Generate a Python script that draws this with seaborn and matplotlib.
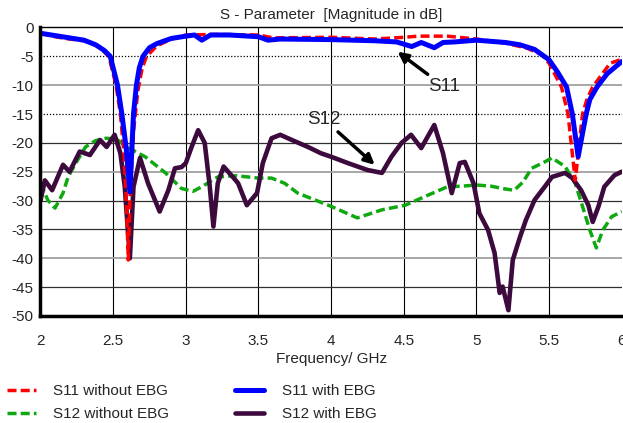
import matplotlib
matplotlib.use("Agg")
import matplotlib.pyplot as plt
import seaborn as sns

# S11 without EBG (red dashed)
s11_no_f = [2.0, 2.1, 2.2, 2.3, 2.4, 2.47, 2.52, 2.55, 2.575, 2.595, 2.604, 2.615, 2.64, 2.67,
            2.7, 2.73, 2.8, 2.9, 3.0, 3.2, 3.5, 3.6, 4.0, 4.3, 4.5, 4.6, 4.8, 5.0, 5.2, 5.35,
            5.45, 5.5, 5.585, 5.63, 5.68, 5.73, 5.76, 5.8, 5.92, 6.0]
s11_no_db = [-1.0, -1.6, -2.0, -2.3, -3.3, -5.0, -10.0, -15.0, -22.0, -33.0, -40.3, -30.0, -18.0, -11.0,
             -7.0, -5.0, -3.2, -2.0, -1.3, -1.2, -1.3, -1.8, -1.7, -2.0, -1.7, -1.5, -1.5, -2.0, -2.7, -3.6,
             -4.7, -6.2, -10.3, -15.0, -26.5, -15.0, -12.5, -10.3, -6.2, -5.5]

# S11 with EBG (blue solid)
s11_ebg_f = [2.0, 2.1, 2.2, 2.3, 2.38, 2.44, 2.48, 2.53, 2.56, 2.59, 2.615, 2.64, 2.66, 2.68,
             2.705, 2.75, 2.8, 2.9, 3.0, 3.06, 3.11, 3.17, 3.3, 3.5, 3.565, 3.65, 4.0, 4.3,
             4.45, 4.555, 4.62, 4.71, 4.77, 4.85, 5.0, 5.2, 5.3, 5.4, 5.5, 5.56, 5.62, 5.66,
             5.70, 5.755, 5.78, 5.83, 5.9, 6.0]
s11_ebg_db = [-1.0, -1.4, -1.8, -2.2, -3.0, -4.0, -5.0, -10.0, -15.0, -21.0, -28.5, -15.0, -10.0, -7.0,
              -5.0, -3.5, -2.8, -1.9, -1.5, -1.3, -2.2, -1.3, -1.3, -1.6, -2.2, -2.0, -2.1, -2.3,
              -2.5, -3.3, -2.6, -3.5, -2.6, -2.5, -2.2, -2.6, -3.0, -3.8, -5.6, -7.8, -10.3, -15.0,
              -22.4, -15.0, -12.5, -10.3, -8.0, -5.9]

# S12 without EBG (green dashed)
s12_no_f = [2.0, 2.05, 2.1, 2.155, 2.19, 2.25, 2.31, 2.38, 2.45, 2.52, 2.6, 2.72, 2.86, 2.97,
            3.05, 3.11, 3.22, 3.35, 3.5, 3.59, 3.68, 3.77, 3.89, 4.0, 4.18, 4.35, 4.51, 4.645,
            4.8, 4.9, 5.0, 5.1, 5.2, 5.26, 5.32, 5.38, 5.47, 5.52, 5.61, 5.68, 5.73, 5.78,
            5.825, 5.87, 5.93, 6.0]
s12_no_db = [-27.0, -29.9, -31.3, -28.7, -25.9, -23.2, -20.7, -19.6, -19.2, -19.3, -20.8, -22.4, -25.2, -27.9,
             -28.4, -27.6, -25.9, -25.7, -26.1, -26.1, -27.0, -28.7, -29.9, -31.0, -33.0, -31.6, -30.8, -29.3,
             -27.6, -27.5, -27.3, -27.5, -28.0, -28.2, -26.8, -24.4, -23.3, -22.6, -24.1, -27.0, -31.0, -35.1,
             -38.2, -35.1, -32.8, -31.9]

# S12 with EBG (dark purple solid)
s12_ebg_f = [2.0, 2.03, 2.08, 2.155, 2.2, 2.27, 2.34, 2.41, 2.455, 2.51, 2.55, 2.58, 2.615, 2.64,
             2.685, 2.74, 2.82, 2.88, 2.925, 2.97, 3.0, 3.04, 3.085, 3.13, 3.165, 3.19, 3.22, 3.26,
             3.33, 3.36, 3.42, 3.49, 3.53, 3.59, 3.65, 3.73, 3.84, 3.93, 4.0, 4.115, 4.25, 4.35,
             4.415, 4.485, 4.55, 4.62, 4.71, 4.77, 4.83, 4.885, 4.92, 4.98, 5.02, 5.08, 5.125, 5.16,
             5.18, 5.22, 5.25, 5.30, 5.34, 5.40, 5.47, 5.52, 5.61, 5.66, 5.72, 5.77, 5.80, 5.84,
             5.88, 5.95, 6.0]
s12_ebg_db = [-30.0, -26.5, -28.2, -23.8, -25.0, -21.5, -22.1, -19.5, -20.7, -18.6, -21.8, -27.6, -40.0, -27.6,
              -22.6, -27.0, -31.9, -28.2, -24.4, -24.2, -23.5, -20.7, -17.8, -20.0, -27.6, -34.5, -27.0, -24.1,
              -26.1, -27.0, -30.8, -28.7, -23.5, -19.2, -18.6, -19.5, -20.7, -21.8, -22.4, -23.5, -24.7, -25.2,
              -22.4, -20.0, -18.6, -20.9, -16.9, -21.8, -28.7, -23.5, -23.3, -27.0, -32.2, -35.1, -39.1, -46.0,
              -44.9, -49.0, -40.3, -36.3, -33.4, -29.9, -27.6, -25.9, -25.2, -26.1, -28.2, -30.8, -33.7, -31.0,
              -27.6, -25.6, -25.0]

x_ticks = [2, 2.5, 3, 3.5, 4, 4.5, 5, 5.5, 6]
x_tick_labels = ["2", "2.5", "3", "3.5", "4", "4.5", "5", "5.5", "6"]
y_ticks = [0, -5, -10, -15, -20, -25, -30, -35, -40, -45, -50]

sns.set_style("white")
plt.rcParams['font.family'] = ['Liberation Sans', 'DejaVu Sans']
plt.rcParams['axes.unicode_minus'] = False

fig = plt.figure(figsize=(6.23, 4.23), dpi=100)
ax = fig.add_axes([0.065, 0.253, 0.933, 0.682])

# grid
for xv in [2.5, 3, 3.5, 4, 4.5, 5, 5.5]:
    ax.axvline(xv, color='black', lw=0.8, zorder=0)
for yv in [-10, -25, -40]:
    ax.axhline(yv, color='#a0a0a0', lw=1.3, zorder=0)
for yv in [-20, -30, -35, -45]:
    ax.axhline(yv, color='#303030', lw=0.9, zorder=0)
for yv in [-5, -15]:
    ax.axhline(yv, color='black', lw=0.9, ls=(0, (1, 1.5)), zorder=0)

dash = (0, (2.6, 1.2))
sns.lineplot(x=s12_no_f, y=s12_no_db, ax=ax, color='#10a810', lw=2.5, linestyle=dash,
             label='S12 without EBG', sort=False)
sns.lineplot(x=s12_ebg_f, y=s12_ebg_db, ax=ax, color='#3d0a3d', lw=3.3, label='S12 with EBG', sort=False)
sns.lineplot(x=s11_no_f, y=s11_no_db, ax=ax, color='#ff0000', lw=2.5, linestyle=dash,
             label='S11 without EBG', sort=False)
sns.lineplot(x=s11_ebg_f, y=s11_ebg_db, ax=ax, color='#0000ff', lw=3.6, label='S11 with EBG', sort=False)
for ln in ax.get_lines():
    ln.set_solid_joinstyle('round')
    ln.set_solid_capstyle('round')

ax.set_xlim(2, 6)
ax.set_ylim(-50, 0)
ax.set_xticks(x_ticks)
ax.set_xticklabels(x_tick_labels)
ax.set_yticks(y_ticks)
ax.tick_params(axis='x', length=0, pad=13, labelsize=11)
ax.tick_params(axis='y', length=0, pad=5, labelsize=11)

for side in ['left', 'bottom']:
    ax.spines[side].set_linewidth(2.5)
    ax.spines[side].set_color('black')
ax.spines['top'].set_linewidth(1.0)
ax.spines['top'].set_color('black')
ax.spines['right'].set_visible(False)

ax.set_title("S - Parameter  [Magnitude in dB]", fontsize=11, pad=6)
ax.set_xlabel("Frequency/ GHz", fontsize=11, labelpad=3)
ax.set_ylabel("")

# annotations
ax.annotate("S11", xy=(4.457, -4.2), xytext=(4.78, -10.3), fontsize=13.5, ha='center', va='center',
            arrowprops=dict(arrowstyle='-|>', color='black', lw=2.5, shrinkA=1, shrinkB=0,
                            mutation_scale=15))
ax.annotate("S12", xy=(4.30, -23.8), xytext=(3.95, -15.9), fontsize=13.5, ha='center', va='center',
            arrowprops=dict(arrowstyle='-|>', color='black', lw=2.5, shrinkA=1, shrinkB=0,
                            mutation_scale=15))

handles, labels = ax.get_legend_handles_labels()
ax.get_legend().remove()
order = ['S11 without EBG', 'S12 without EBG', 'S11 with EBG', 'S12 with EBG']
hmap = dict(zip(labels, handles))
fig.legend([hmap[k] for k in order], order, loc='upper left', bbox_to_anchor=(-0.009, 0.12),
           ncol=2, frameon=False, fontsize=11, handlelength=1.9, handletextpad=1.15,
           columnspacing=4.3, labelspacing=0.55, borderpad=0.3)

fig.savefig("out.png", dpi=100)
